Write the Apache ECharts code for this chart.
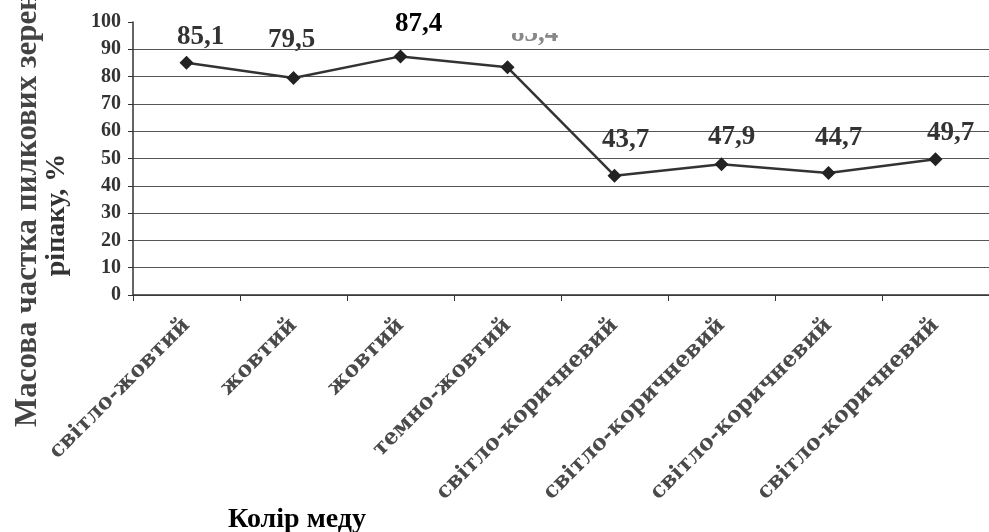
<!DOCTYPE html>
<html>
<head>
<meta charset="utf-8">
<script src="https://cdn.jsdelivr.net/npm/echarts@6/dist/echarts.min.js"></script>
<style>
html,body{margin:0;padding:0;background:#fff;}
#chart{width:989px;height:532px;}
</style>
</head>
<body>
<div id="chart"></div>
<script>
// ---- data ----
const categories = ['світло-жовтий', 'жовтий', 'жовтий', 'темно-жовтий',
  'світло-коричневий', 'світло-коричневий', 'світло-коричневий', 'світло-коричневий'];
const values = [85.1, 79.5, 87.4, 83.4, 43.7, 47.9, 44.7, 49.7];
const yTicks = [0, 10, 20, 30, 40, 50, 60, 70, 80, 90, 100];
const yTitleLine1 = 'Масова частка пилкових зерен';
const yTitleLine2 = 'ріпаку, %';
const xTitle = 'Колір меду';

// ---- label styling (offsets only, not data) ----
const labelOffsets = [[14, -5], [-2, -17], [18, -12], [27, -13], [11, -15], [10, -7], [10, -14], [15, -6]];
const labelColors = ['#333', '#333', '#000', '#888', '#333', '#333', '#333', '#333'];

const serif = '"Liberation Serif", "Times New Roman", serif';

const seriesData = values.map((v, i) => ({
  value: v,
  label: { offset: labelOffsets[i], color: labelColors[i] }
}));

const chart = echarts.init(document.getElementById('chart'), null, { renderer: 'canvas' });
chart.setOption({
  backgroundColor: '#fff',
  animation: false,
  grid: { left: 133, top: 22, right: -4, bottom: 237, containLabel: false },
  xAxis: {
    type: 'category',
    data: categories,
    boundaryGap: true,
    axisLine: { lineStyle: { color: '#333', width: 1.5 } },
    axisTick: { show: true, length: 6, alignWithLabel: false, lineStyle: { color: '#333' } },
    axisLabel: {
      interval: 0, rotate: 45, margin: 27,
      fontFamily: '"DejaVu Serif", serif', fontWeight: 'bold', fontSize: 22, color: '#4a4a4a'
    },
    splitLine: { show: false }
  },
  yAxis: {
    type: 'value',
    min: yTicks[0], max: yTicks[yTicks.length - 1], interval: 10,
    axisLine: { show: true, lineStyle: { color: '#333', width: 1.5 } },
    axisTick: { show: true, length: 5, lineStyle: { color: '#333' } },
    axisLabel: {
      margin: 12, fontFamily: serif, fontWeight: 'bold', fontSize: 20, color: '#333'
    },
    splitLine: { show: true, showMaxLine: false, lineStyle: { color: '#555', width: 1.2 } }
  },
  series: [{
    type: 'line',
    data: seriesData,
    symbol: 'diamond',
    symbolSize: 14,
    itemStyle: { color: '#222' },
    lineStyle: { color: '#333', width: 2.5 },
    label: {
      show: true, position: 'top', distance: 0,
      fontFamily: serif, fontWeight: 'bold', fontSize: 27,
      formatter: p => String(p.value).replace('.', ',')
    },
    z: 3
  }],
  graphic: [
    {
      type: 'rect', left: 498, top: 0, z: 100,
      shape: { width: 80, height: 33 },
      style: { fill: '#fff' }
    },
    {
      type: 'text', x: 28, y: 210, rotation: Math.PI / 2,
      style: {
        text: yTitleLine1, font: 'bold 31px ' + serif, fill: '#444',
        align: 'center', verticalAlign: 'middle'
      }
    },
    {
      type: 'text', x: 57, y: 215, rotation: Math.PI / 2,
      style: {
        text: yTitleLine2, font: 'bold 28px ' + serif, fill: '#333',
        align: 'center', verticalAlign: 'middle'
      }
    },
    {
      type: 'text', x: 297, y: 520,
      style: {
        text: xTitle, font: 'bold 28px ' + serif, fill: '#000',
        align: 'center', verticalAlign: 'middle'
      }
    }
  ]
});
</script>
</body>
</html>
